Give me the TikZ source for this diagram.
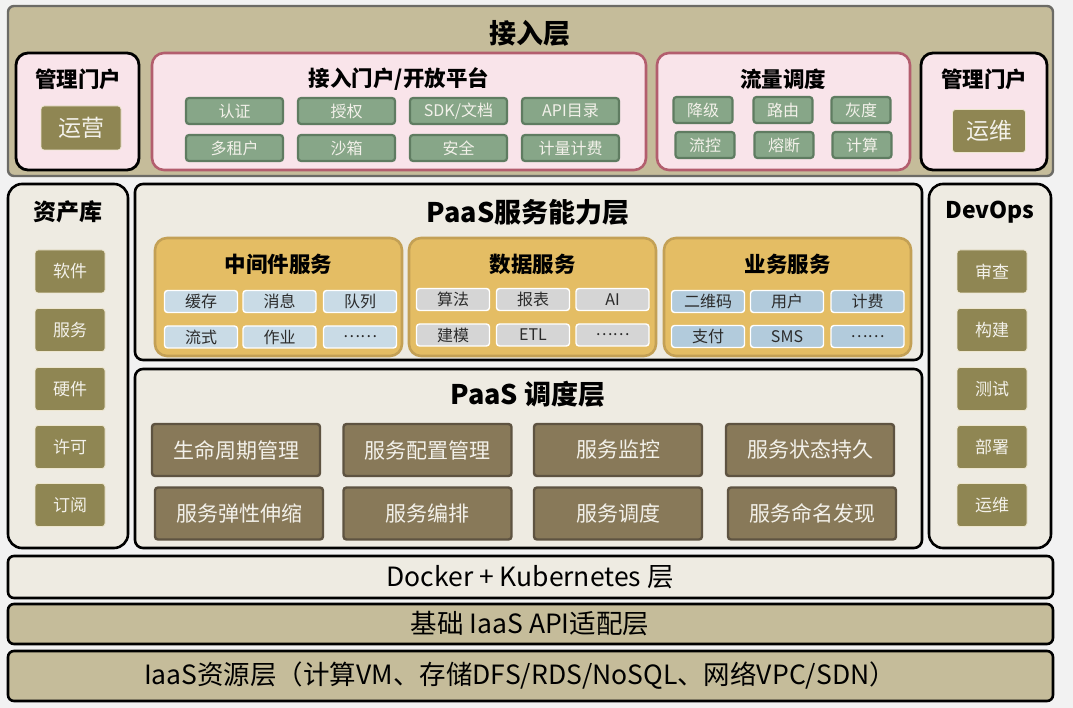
\documentclass[tikz,border=0pt]{standalone}
\usepackage{fontspec}
\setmainfont{Noto Sans CJK SC}
\usepackage{tikz}

\definecolor{pagebg}{HTML}{F2F2F2}
\definecolor{tanbg}{HTML}{C5BC9A}
\definecolor{tanline}{HTML}{6C6B66}
\definecolor{pinkbg}{HTML}{F9E4EA}
\definecolor{roseline}{HTML}{B35E6E}
\definecolor{greenbg}{HTML}{87A688}
\definecolor{greenline}{HTML}{5F7C61}
\definecolor{olivebg}{HTML}{8F8653}
\definecolor{oliveline}{HTML}{EDE6CF}
\definecolor{creambg}{HTML}{EEEBE2}
\definecolor{goldbg}{HTML}{E4BD64}
\definecolor{goldline}{HTML}{C3A055}
\definecolor{bluebg}{HTML}{C9DBE6}
\definecolor{busbg}{HTML}{B2CBDC}
\definecolor{graybg}{HTML}{D5D5D5}
\definecolor{brownbg}{HTML}{887959}
\definecolor{brownline}{HTML}{5E5341}
\definecolor{celltext}{HTML}{F3F1EA}
\definecolor{darktext}{HTML}{2B2B2B}

\tikzset{
  accbox/.style={draw=tanline, line width=2.4pt, rounded corners=6pt, fill=tanbg},
  layerbox/.style={draw=black, line width=2.6pt, rounded corners=8pt, fill=creambg},
  sidebox/.style={layerbox, rounded corners=14pt},
  basebox/.style={draw=black, line width=2.6pt, rounded corners=6pt, fill=creambg},
  portalbox/.style={draw=black, line width=2.8pt, rounded corners=12pt, fill=pinkbg},
  pinkbox/.style={draw=roseline, line width=2.6pt, rounded corners=12pt, fill=pinkbg},
  goldbox/.style={draw=goldline, line width=2.6pt, rounded corners=12pt, fill=goldbg},
  cell/.style={rounded corners=3pt, inner sep=0pt, align=center},
  gcell/.style={cell, draw=greenline, line width=2.2pt, fill=greenbg, text=celltext, minimum width=97pt, minimum height=26pt, font=\fontsize{16}{16}\selectfont},
  fcell/.style={gcell, minimum width=59pt},
  ocell/.style={cell, draw=oliveline, line width=0.8pt, fill=olivebg, text=celltext, minimum width=70pt, minimum height=43pt, font=\fontsize{17}{17}\selectfont},
  bigcell/.style={ocell, font=\fontsize{23}{23}\selectfont},
  bcell/.style={cell, draw=white, line width=1.4pt, fill=bluebg, text=darktext, minimum width=73pt, minimum height=22pt, font=\fontsize{16}{16}\selectfont},
  dcell/.style={bcell, fill=graybg},
  ucell/.style={bcell, fill=busbg},
  scell/.style={cell, draw=brownline, line width=2.4pt, fill=brownbg, text=celltext, minimum width=168pt, minimum height=52pt, font=\fontsize{21}{21}\selectfont},
  bigtitle/.style={font=\bfseries\fontsize{27}{27}\selectfont},
  sidetitle/.style={font=\bfseries\fontsize{23}{23}\selectfont},
  midtitle/.style={font=\bfseries\fontsize{21.5}{21.5}\selectfont},
  basetext/.style={font=\fontsize{26.5}{26.5}\selectfont}
}

\begin{document}
\begin{tikzpicture}[x=1pt, y=-1pt]
  \fill[pagebg] (0,0) rectangle (1073,708);

  % access layer
  \draw[accbox] (8,6) rectangle (1053,176);
  \node[bigtitle] (accesstitle) at (530,33) {接入层};
  \draw[portalbox] (16,53) rectangle (139,170);
  \node[midtitle] (mgmtl) at (78,79) {管理门户};
  \node[bigcell, minimum width=80pt, minimum height=44pt] (yunying) at (81,128) {运营};

  \draw[pinkbox] (152,53) rectangle (646,170);
  \node[midtitle] (opentitle) at (399,79) {接入门户/开放平台};
  \node[gcell] (auth) at (234.5,111) {认证};
  \node[gcell] (grant) at (346.5,111) {授权};
  \node[gcell] (sdk) at (458.5,111) {SDK/文档};
  \node[gcell] (apicat) at (570.5,111) {API目录};
  \node[gcell] (tenant) at (234.5,148) {多租户};
  \node[gcell] (sandbox) at (346.5,148) {沙箱};
  \node[gcell] (security) at (458.5,148) {安全};
  \node[gcell] (billing) at (570.5,148) {计量计费};

  \draw[pinkbox] (657,53) rectangle (910,170);
  \node[midtitle] (flowtitle) at (783,79) {流量调度};
  \node[fcell] (degrade) at (703,110) {降级};
  \node[fcell] (route) at (783,110) {路由};
  \node[fcell] (gray) at (861,110) {灰度};
  \node[fcell] (limit) at (705,145) {流控};
  \node[fcell] (fuse) at (784,145) {熔断};
  \node[fcell] (compute) at (862,145) {计算};

  \draw[portalbox] (921,53) rectangle (1047,170);
  \node[midtitle] (mgmtr) at (984,79) {管理门户};
  \node[bigcell, minimum width=73pt, minimum height=43pt] (yunwei) at (989,131) {运维};

  % asset library
  \draw[sidebox] (8,184) rectangle (128,548);
  \node[sidetitle] (assettitle) at (68,212) {资产库};
  \node[ocell] (software) at (70,271.5) {软件};
  \node[ocell] (service) at (70,330) {服务};
  \node[ocell] (hardware) at (70,389) {硬件};
  \node[ocell] (license) at (70,447) {许可};
  \node[ocell] (subscribe) at (70,505) {订阅};

  % paas service layer
  \draw[layerbox] (135,184) rectangle (922,360);
  \node[bigtitle] (svctitle) at (528,212) {PaaS服务能力层};

  \draw[goldbox] (155,238) rectangle (402,356);
  \node[midtitle] (mwtitle) at (278.5,264) {中间件服务};
  \node[bcell] (cache) at (201,301.5) {缓存};
  \node[bcell] (message) at (279.5,301.5) {消息};
  \node[bcell] (queue) at (360,301.5) {队列};
  \node[bcell] (stream) at (201,337) {流式};
  \node[bcell] (job) at (279.5,337) {作业};
  \node[bcell] (mwmore) at (360,337) {……};

  \draw[goldbox] (409,238) rectangle (656,356);
  \node[midtitle] (datatitle) at (532.5,264) {数据服务};
  \node[dcell] (algo) at (453,299.5) {算法};
  \node[dcell] (report) at (533,299.5) {报表};
  \node[dcell] (ai) at (612.5,299.5) {AI};
  \node[dcell] (model) at (453,335) {建模};
  \node[dcell] (etl) at (533,335) {ETL};
  \node[dcell] (datamore) at (612.5,335) {……};

  \draw[goldbox] (664,238) rectangle (911,356);
  \node[midtitle] (bizttitle) at (787.5,264) {业务服务};
  \node[ucell] (qrcode) at (708,301.5) {二维码};
  \node[ucell] (user) at (787,301.5) {用户};
  \node[ucell] (fee) at (867.5,301.5) {计费};
  \node[ucell] (pay) at (708,336.5) {支付};
  \node[ucell] (sms) at (787,336.5) {SMS};
  \node[ucell] (bizmore) at (867.5,336.5) {……};

  % paas scheduling layer
  \draw[layerbox] (135,369) rectangle (922,548);
  \node[bigtitle] (schedtitle) at (528,394) {PaaS 调度层};
  \node[scell] (lifecycle) at (236,450) {生命周期管理};
  \node[scell] (config) at (427.5,450) {服务配置管理};
  \node[scell] (monitor) at (618,450) {服务监控};
  \node[scell] (persist) at (810,450) {服务状态持久};
  \node[scell] (scale) at (239,513.5) {服务弹性伸缩};
  \node[scell] (orchestr) at (427.5,513.5) {服务编排};
  \node[scell] (dispatch) at (618,513.5) {服务调度};
  \node[scell] (naming) at (812,513.5) {服务命名发现};

  % devops
  \draw[sidebox] (929,184) rectangle (1051,548);
  \node[sidetitle] (devopstitle) at (990,212) {DevOps};
  \node[ocell] (review) at (992,271.5) {审查};
  \node[ocell] (build) at (992,330) {构建};
  \node[ocell] (test) at (992,389) {测试};
  \node[ocell] (deploy) at (992,447) {部署};
  \node[ocell] (operate) at (992,505) {运维};

  % base layers
  \draw[basebox] (8,556) rectangle (1053,598);
  \node[basetext] (docker) at (530,577) {Docker + Kubernetes 层};
  \draw[basebox, fill=tanbg] (8,604) rectangle (1053,644);
  \node[basetext] (adapter) at (530,624) {基础 IaaS API适配层};
  \draw[basebox, fill=tanbg] (8,651) rectangle (1053,701);
  \node[basetext] (iaas) at (520,676) {IaaS资源层（计算VM、存储DFS/RDS/NoSQL、网络VPC/SDN）};
\end{tikzpicture}
\end{document}
